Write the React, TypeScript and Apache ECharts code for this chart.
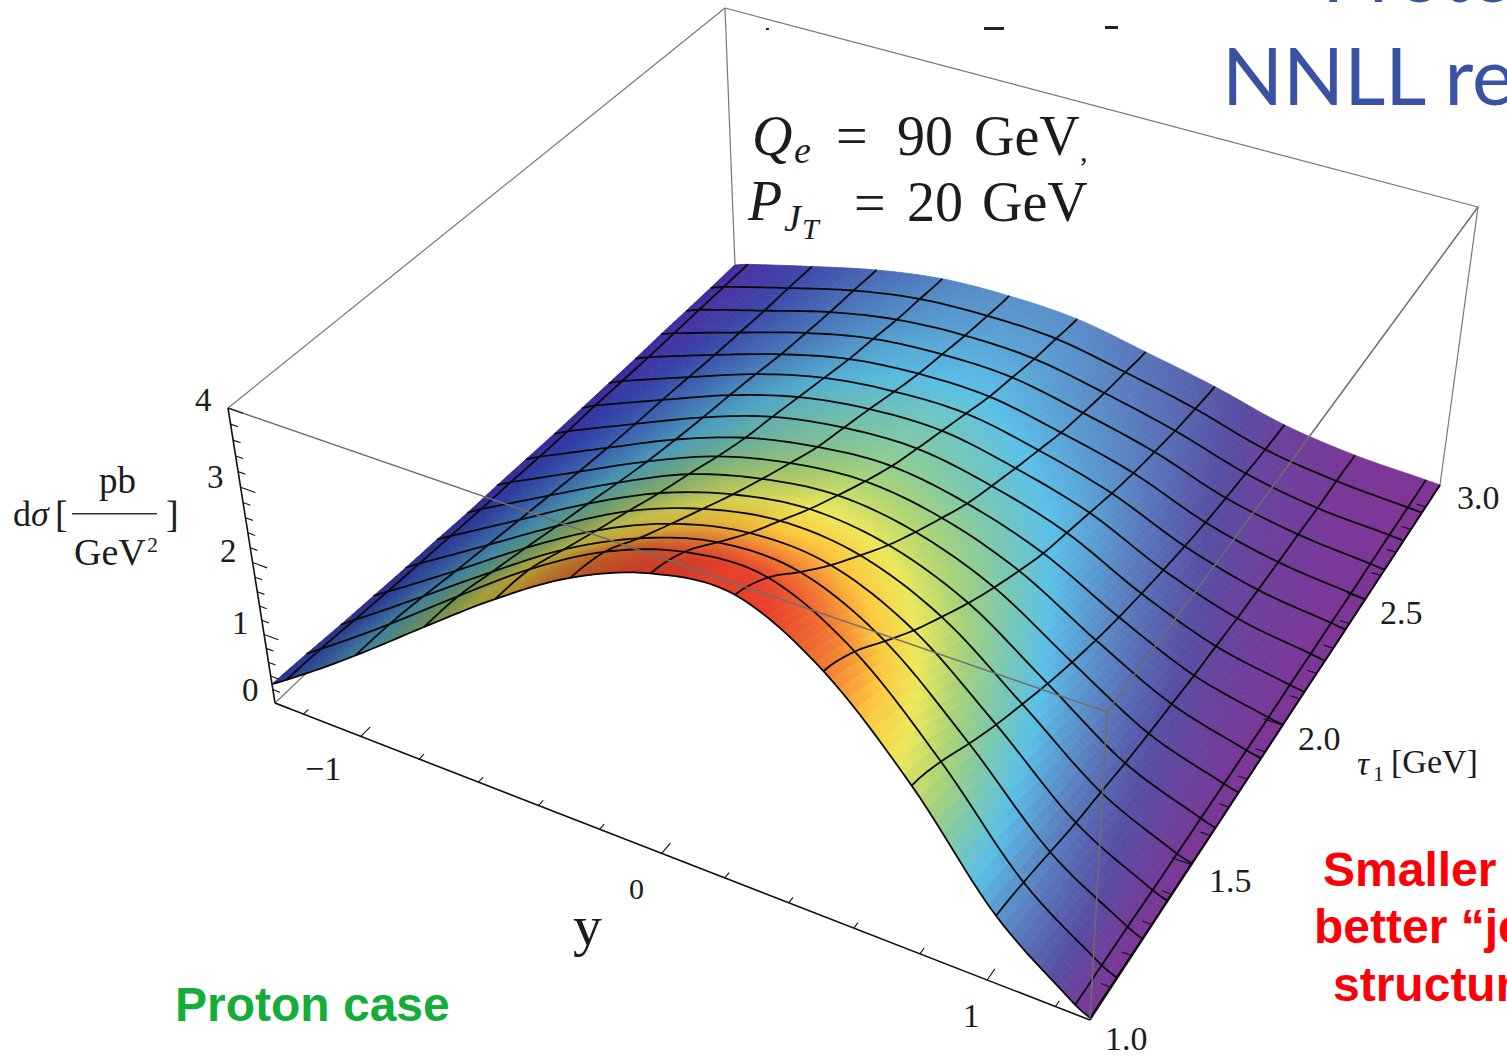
import React, { useEffect, useRef } from "react";
import * as echarts from "echarts";

// ---- data ----
const TAU_VALUES = [1, 1.125, 1.25, 1.375, 1.5, 1.625, 1.75, 1.875, 2, 2.125, 2.25, 2.375, 2.5, 2.625, 2.75, 2.875, 3];
const Y_VALUES = [-1.3, -1.25, -1, -0.75, -0.5, -0.25, 0, 0.25, 0.5, 0.75, 1, 1.25, 1.3];
// one row per tau, one column per y: dσ
const HEIGHTS = [
  [0.28, 0.43, 1.2, 1.98, 2.72, 3.35, 3.76, 3.86, 3.3, 2.25, 0.94, 0.13, 0.03],
  [0.25, 0.41, 1.18, 1.95, 2.67, 3.25, 3.6, 3.64, 3.09, 2.07, 0.86, 0.12, 0.03],
  [0.21, 0.37, 1.12, 1.84, 2.5, 3.0, 3.3, 3.28, 2.77, 1.82, 0.75, 0.11, 0.02],
  [0.18, 0.33, 1.04, 1.73, 2.33, 2.77, 3.0, 2.94, 2.46, 1.59, 0.64, 0.09, 0.02],
  [0.15, 0.3, 0.97, 1.61, 2.17, 2.55, 2.74, 2.64, 2.19, 1.39, 0.56, 0.08, 0.02],
  [0.13, 0.27, 0.9, 1.5, 2.0, 2.33, 2.48, 2.35, 1.93, 1.2, 0.47, 0.07, 0.01],
  [0.1, 0.24, 0.83, 1.38, 1.85, 2.13, 2.25, 2.1, 1.7, 1.03, 0.4, 0.06, 0.01],
  [0.09, 0.22, 0.76, 1.27, 1.69, 1.94, 2.03, 1.87, 1.49, 0.88, 0.34, 0.05, 0.01],
  [0.07, 0.19, 0.7, 1.18, 1.55, 1.76, 1.83, 1.65, 1.3, 0.75, 0.28, 0.04, 0.01],
  [0.05, 0.17, 0.65, 1.1, 1.45, 1.63, 1.67, 1.48, 1.16, 0.64, 0.24, 0.04, 0.01],
  [0.04, 0.16, 0.61, 1.03, 1.34, 1.5, 1.52, 1.32, 1.02, 0.54, 0.19, 0.03, 0],
  [0.03, 0.14, 0.56, 0.95, 1.23, 1.36, 1.37, 1.17, 0.88, 0.45, 0.16, 0.03, 0],
  [0.02, 0.12, 0.51, 0.86, 1.12, 1.23, 1.22, 1.02, 0.76, 0.37, 0.13, 0.02, 0],
  [0.02, 0.11, 0.47, 0.8, 1.04, 1.13, 1.11, 0.91, 0.66, 0.31, 0.11, 0.02, 0],
  [0.01, 0.1, 0.43, 0.74, 0.95, 1.03, 1.0, 0.81, 0.57, 0.26, 0.08, 0.02, 0],
  [0, 0.09, 0.41, 0.7, 0.89, 0.95, 0.92, 0.73, 0.5, 0.21, 0.07, 0.01, 0],
  [0, 0.08, 0.38, 0.65, 0.83, 0.88, 0.84, 0.65, 0.44, 0.18, 0.05, 0.01, 0],
];
const MESH_Y = [-1.25, -1, -0.75, -0.5, -0.25, 0, 0.25, 0.5, 0.75, 1, 1.25];
const MESH_TAU = [1.125, 1.25, 1.375, 1.5, 1.625, 1.75, 1.875, 2, 2.125, 2.25, 2.375, 2.5, 2.625, 2.75, 2.875];
const Z_TICKS = [0, 0.2, 0.4, 0.6, 0.8, 1, 1.2, 1.4, 1.6, 1.8, 2, 2.2, 2.4, 2.6, 2.8, 3, 3.2, 3.4, 3.6, 3.8, 4];
const Y_TICKS = [-1.2, -1, -0.8, -0.6, -0.4, -0.2, 0, 0.2, 0.4, 0.6, 0.8, 1, 1.2];
const TAU_TICKS = [1.1, 1.2, 1.3, 1.4, 1.5, 1.6, 1.7, 1.8, 1.9, 2, 2.1, 2.2, 2.3, 2.4, 2.5, 2.6, 2.7, 2.8, 2.9];
const HEIGHT_STOPS = [0, 0.35, 0.8, 1.25, 1.6, 2.0, 2.45, 2.85, 3.3, 3.75];
const COLOR_STOPS = [
  [127, 52, 150], [87, 79, 163], [90, 134, 196], [91, 192, 232], [121, 200, 176],
  [166, 210, 122], [236, 232, 90], [252, 200, 62], [241, 122, 51], [232, 64, 44],
];

// ---- the box's camera: where the corners of the floor and the lid fall on the page ----
const FLOOR_QUAD = [[275, 703], [1090, 1020], [1440, 485], [735, 265]];
const TOP_QUAD = [[228, 408], [1107, 712], [1478, 207], [725, 8]];
const Z_PERSPECTIVE = 1.1;

function homography(q: number[][]) {
  const [x0, y0] = q[0], [x1, y1] = q[1], [x2, y2] = q[2], [x3, y3] = q[3];
  const dx1 = x1 - x2, dy1 = y1 - y2, dx2 = x3 - x2, dy2 = y3 - y2;
  const sx = x0 - x1 + x2 - x3, sy = y0 - y1 + y2 - y3;
  const den = dx1 * dy2 - dx2 * dy1;
  const g = (sx * dy2 - dx2 * sy) / den, h = (dx1 * sy - sx * dy1) / den;
  const a = x1 - x0 + g * x1, b = x3 - x0 + h * x3, d = y1 - y0 + g * y1, e = y3 - y0 + h * y3;
  return (u: number, v: number) => {
    const w = g * u + h * v + 1;
    return [(a * u + b * v + x0) / w, (d * u + e * v + y0) / w];
  };
}
const floorMap = homography(FLOOR_QUAD);
const topMap = homography(TOP_QUAD);

function projectUV(u: number, v: number, h: number) {
  const w = h / 4;
  const wp = w / (Z_PERSPECTIVE - (Z_PERSPECTIVE - 1) * w);
  const f = floorMap(u, v), t = topMap(u, v);
  return [f[0] + (t[0] - f[0]) * wp, f[1] + (t[1] - f[1]) * wp];
}
function project(y: number, tau: number, h: number) {
  return projectUV((y + 1.3) / 2.6, (tau - 1) / 2, h);
}
// the surface sits a little to the right of the box's ticks in the picture
function projectSurface(y: number, tau: number, h: number) {
  const e = Math.pow(Math.abs(y) / 1.3, 6);
  const front = 1 - (tau - 1) / 2;
  return projectUV((y + 1.3) / 2.6 + 0.0105 * (1 - e) * (0.35 + 0.65 * front), (tau - 1) / 2, h);
}

// smooth read of the table between its rows and columns (for drawing only)
function cr(a: number, b: number, c: number, d: number, t: number) {
  return 0.5 * (2 * b + (c - a) * t + (2 * a - 5 * b + 4 * c - d) * t * t + (3 * b - a - 3 * c + d) * t * t * t);
}
function rowAtY(r: number, y: number) {
  const R = TAU_VALUES.length - 1, C = Y_VALUES.length - 1;
  const row = HEIGHTS[Math.max(0, Math.min(R, r))];
  let i = 0;
  while (i < C - 1 && y > Y_VALUES[i + 1]) i++;
  const y0 = Y_VALUES[i], y1 = Y_VALUES[i + 1], dy = y1 - y0;
  const slope = (k: number) => {
    const a = Math.max(0, k - 1), b = Math.min(C, k + 1);
    return (row[b] - row[a]) / (Y_VALUES[b] - Y_VALUES[a]);
  };
  const t = (y - y0) / dy;
  const t2 = t * t, t3 = t2 * t;
  return (2 * t3 - 3 * t2 + 1) * row[i] + (t3 - 2 * t2 + t) * dy * slope(i) + (-2 * t3 + 3 * t2) * row[i + 1] + (t3 - t2) * dy * slope(i + 1);
}
function heightAt(y: number, rowF: number) {
  const R = TAU_VALUES.length - 1;
  const r0 = Math.min(Math.floor(rowF), R - 1);
  return cr(rowAtY(r0 - 1, y), rowAtY(r0, y), rowAtY(r0 + 1, y), rowAtY(r0 + 2, y), rowF - r0);
}
const rowToTau = (r: number) => 1 + r * 0.125;
const tauToRow = (t: number) => (t - 1) / 0.125;

function colorFor(h: number, slope: number) {
  let i = 0;
  while (i < HEIGHT_STOPS.length - 2 && h > HEIGHT_STOPS[i + 1]) i++;
  const t = Math.max(0, Math.min(1, (h - HEIGHT_STOPS[i]) / (HEIGHT_STOPS[i + 1] - HEIGHT_STOPS[i])));
  const a = COLOR_STOPS[i], b = COLOR_STOPS[i + 1];
  const shade = 1 - Math.max(0, Math.min(0.33, slope * 0.11));
  const low = Math.max(0, Math.min(1, (1.2 - h) / 1.0)) * Math.max(0, Math.min(1, slope / 2));
  const r = (a[0] + (b[0] - a[0]) * t) * shade * (1 - 0.35 * low);
  const g = (a[1] + (b[1] - a[1]) * t) * shade;
  const bl = Math.min(255, (a[2] + (b[2] - a[2]) * t) * shade * (1 + 0.35 * low));
  return `rgb(${Math.round(r)},${Math.round(g)},${Math.round(bl)})`;
}

const SUB_ROW = 6;
const SUB_Y = 0.022;
const surfaceCells: number[][] = [];
for (let r = TAU_VALUES.length - 2; r >= 0; r--) {
  for (let c = 0; c < Y_VALUES.length - 1; c++) surfaceCells.push([c, r]);
}

function renderCell(_p: any, api: any) {
  const c = api.value(0), r = api.value(1);
  const yA = Y_VALUES[c], yB = Y_VALUES[c + 1];
  const nY = Math.max(1, Math.round((yB - yA) / SUB_Y));
  const pt = (y: number, rr: number) => api.coord(projectSurface(y, rowToTau(rr), heightAt(y, rr)));
  const children: any[] = [];
  for (let j = SUB_ROW - 1; j >= 0; j--) {
    for (let i = 0; i < nY; i++) {
      const y0 = yA + ((yB - yA) * i) / nY, y1 = yA + ((yB - yA) * (i + 1)) / nY;
      const r0 = r + j / SUB_ROW, r1 = r + (j + 1) / SUB_ROW;
      const ym = (y0 + y1) / 2, rm = (r0 + r1) / 2;
      const slope = (heightAt(y1, rm) - heightAt(y0, rm)) / (y1 - y0);
      const fill = colorFor(heightAt(ym, rm), slope);
      children.push({
        type: "polygon",
        shape: { points: [pt(y0, r0), pt(y1, r0), pt(y1, r1), pt(y0, r1)] },
        style: { fill, stroke: fill, lineWidth: 0.8 },
      });
    }
  }
  return { type: "group", children };
}

// mesh: [kind, value]; 0 = line of constant y, 1 = line of constant tau
const meshLines: number[][] = [
  ...MESH_Y.map((y) => [0, y]),
  ...MESH_TAU.map((t) => [1, t]),
  [1, 1],
  [0, 1.3],
];
function renderMesh(_p: any, api: any) {
  const kind = api.value(0), val = api.value(1);
  const pts: number[][] = [];
  if (kind === 0) {
    for (let k = 0; k <= 64; k++) {
      const row = (k / 64) * 16;
      pts.push(api.coord(projectSurface(val, rowToTau(row), heightAt(val, row))));
    }
  } else {
    const row = tauToRow(val);
    for (let k = 0; k <= 104; k++) {
      const y = -1.3 + (k / 104) * 2.6;
      pts.push(api.coord(projectSurface(y, val, heightAt(y, row))));
    }
  }
  return { type: "polyline", shape: { points: pts }, style: { stroke: "#0a0a0a", lineWidth: 1.8, fill: "none" } };
}

// box edges: y, tau, h, y, tau, h
const BACK_EDGES = [
  [-1.3, 1, 4, -1.3, 3, 4],
  [-1.3, 3, 4, 1.3, 3, 4],
  [-1.3, 3, 4, -1.3, 3, 0],
  [1.3, 3, 4, 1.3, 3, 0],
  [-1.3, 1, 0, -1.3, 3, 0],
];
const FRONT_EDGES = [
  [-1.3, 1, 4, 1.3, 1, 4],
  [1.3, 1, 4, 1.3, 3, 4],
  [1.3, 1, 4, 1.3, 1, 0],
];
const AXIS_EDGES = [
  [-1.3, 1, 0, -1.3, 1, 4],
  [-1.3, 1, 0, 1.3, 1, 0],
  [1.3, 1, 0, 1.3, 3, 0],
];
const edgeRenderer = (stroke: string, lineWidth: number) => (_p: any, api: any) => {
  const a = api.coord(project(api.value(0), api.value(1), api.value(2)));
  const b = api.coord(project(api.value(3), api.value(4), api.value(5)));
  return { type: "line", shape: { x1: a[0], y1: a[1], x2: b[0], y2: b[1] }, style: { stroke, lineWidth } };
};
const tickData = [
  ...Z_TICKS.map((z) => {
    const major = Number.isInteger(z);
    return [-1.3, 1, z, -1.3 + (major ? 0.05 : 0.025), 1, z];
  }),
  ...Y_TICKS.map((y) => {
    const major = Number.isInteger(y);
    return [y, 1, 0, y, major ? 1.035 : 1.018, 0];
  }),
  ...TAU_TICKS.map((t) => {
    const major = Math.abs(t * 2 - Math.round(t * 2)) < 1e-6;
    return [1.3, t, 0, major ? 1.24 : 1.27, t, 0];
  }),
];

// ---- texts ----
const SERIF = '"Liberation Serif"';
const INK = "#1c1c1c";
type T = [string, number, number, number, string?];
const SERIF_TEXTS: T[] = [
  ["4", 195, 400, 33], ["3", 207, 477, 33], ["2", 220, 551, 33], ["1", 232, 623, 33], ["0", 242, 690, 33],
  ["−1", 305, 768, 34], ["0", 629, 888, 30], ["1", 963, 1016, 33],
  ["1.0", 1105, 1038, 34], ["1.5", 1209, 880, 34], ["2.0", 1298, 738, 34], ["2.5", 1380, 612, 34], ["3.0", 1457, 497, 34],
  ["τ", 1357, 763, 34, "italic"], ["1", 1373, 773, 22], ["[GeV]", 1391, 761, 34],
  ["y", 573, 925, 58],
  ["d", 13, 514, 36], ["σ", 31, 514, 36, "italic"], ["[", 55, 514, 38],
  ["pb", 99, 480, 37], ["GeV", 74, 552, 38], ["2", 147, 544, 22], ["]", 166, 514, 38],
  ["Q", 752, 136, 56, "italic"], ["e", 794, 150, 38, "italic"], ["=", 836, 136, 56], ["90", 897, 136, 56], ["GeV", 974, 136, 56], [",", 1080, 150, 30],
  ["P", 748, 201, 56, "italic"], ["J", 784, 218, 38, "italic"], ["T", 802, 228, 30, "italic"], ["=", 854, 203, 56], ["20", 907, 202, 56], ["GeV", 982, 202, 56],
];
const SANS_TEXTS: [string, number, number, number, string, string][] = [
  ["Proton case", 175, 1004, 48, "#14ad3a", "Liberation Sans"],
  ["Smaller", 1323, 869, 48, "#fb0007", "Liberation Sans"],
  ["better “je", 1314, 926, 48, "#fb0007", "Liberation Sans"],
  ["structur", 1333, 984, 48, "#fb0007", "Liberation Sans"],
];

function buildGraphics() {
  const items: any[] = [];
  const base = { align: "left", verticalAlign: "middle", textAlign: "left", textVerticalAlign: "middle" };
  SERIF_TEXTS.forEach(([text, x, y, size, style]) => {
    items.push({
      type: "text", x, y, z: 100, silent: true,
      style: { ...base, text, fill: INK, font: `${style === "italic" ? "italic " : ""}${size}px ${SERIF}` },
    });
  });
  SANS_TEXTS.forEach(([text, x, y, size, fill, family]) => {
    items.push({
      type: "text", x, y, z: 100, silent: true,
      style: { ...base, text, fill, font: `bold ${size}px "${family}"` },
    });
  });
  // slide title, cut by the crop
  items.push({
    type: "text", x: 1222, y: 74, z: 100, silent: true,
    style: { ...base, text: "NNLL re", fill: "#3a52a3", font: '80px "Lato"' },
  });
  items.push({
    type: "text", x: 1322, y: -29, z: 100, silent: true,
    style: { ...base, text: "Proto", fill: "#3a52a3", font: '80px "Lato"' },
  });
  // fraction bar
  items.push({ type: "rect", z: 100, silent: true, shape: { x: 72, y: 513, width: 85, height: 1.6 }, style: { fill: "#333" } });
  // remains of a cropped line of text
  [[766, 28, 3, 2], [984, 27, 20, 3], [1105, 26, 13, 3]].forEach(([x, y, width, height]) =>
    items.push({ type: "rect", z: 100, silent: true, shape: { x, y, width, height }, style: { fill: "#222" } })
  );
  return items;
}

export default function App() {
  const ref = useRef<HTMLDivElement>(null);
  useEffect(() => {
    if (!ref.current) return;
    const chart = echarts.init(ref.current, undefined, { renderer: "svg" });
    const base = { type: "custom", coordinateSystem: "cartesian2d", clip: false, silent: true } as any;
    chart.setOption({
      animation: false,
      backgroundColor: "#ffffff",
      tooltip: { show: false },
      grid: { left: 0, top: 0, right: 0, bottom: 0 },
      xAxis: { type: "value", min: 0, max: 1507, show: false },
      yAxis: { type: "value", min: 0, max: 1058, inverse: true, show: false },
      graphic: { elements: buildGraphics() },
      series: [
        { ...base, name: "box back", z: 1, renderItem: edgeRenderer("#777777", 1.2), data: BACK_EDGES },
        { ...base, name: "surface", z: 2, renderItem: renderCell, data: surfaceCells },
        { ...base, name: "mesh", z: 3, renderItem: renderMesh, data: meshLines },
        { ...base, name: "box front", z: 4, renderItem: edgeRenderer("#6e6e6e", 1.5), data: FRONT_EDGES },
        { ...base, name: "axes", z: 5, renderItem: edgeRenderer("#111111", 1.6), data: AXIS_EDGES },
        { ...base, name: "ticks", z: 5, renderItem: edgeRenderer("#111111", 1.1), data: tickData },
      ],
    });
    return () => chart.dispose();
  }, []);
  return (
    <div
      ref={ref}
      style={{ position: "absolute", left: 0, top: 0, width: 1507, height: 1058, overflow: "hidden", background: "#fff" }}
    />
  );
}
